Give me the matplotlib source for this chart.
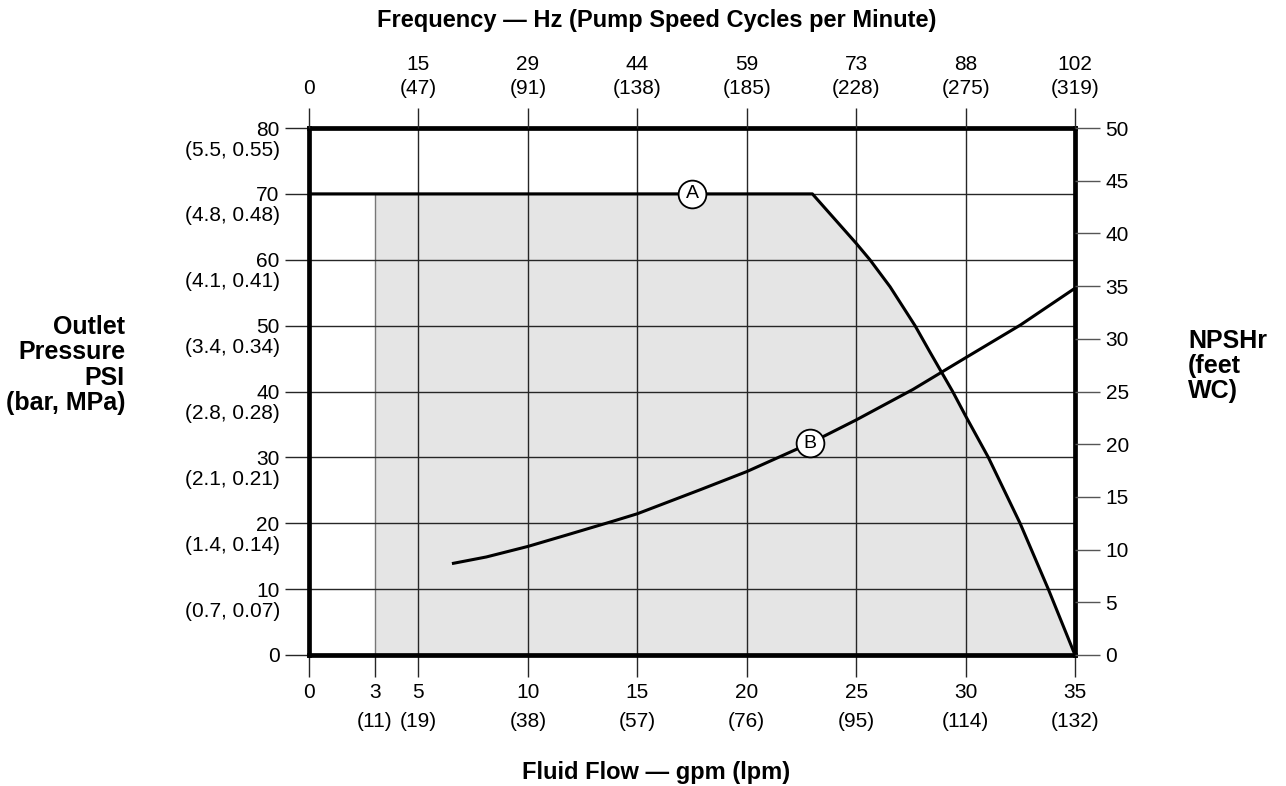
import matplotlib
matplotlib.use("Agg")
import matplotlib.pyplot as plt

plt.rcParams['font.family'] = ['Liberation Sans', 'DejaVu Sans']

# ---- data ----
flow_ticks = [0, 3, 5, 10, 15, 20, 25, 30, 35]
lpm_labels = ['', '(11)', '(19)', '(38)', '(57)', '(76)', '(95)', '(114)', '(132)']
freq_ticks = [0, 5, 10, 15, 20, 25, 30, 35]
hz_labels = ['0', '15', '29', '44', '59', '73', '88', '102']
cpm_labels = ['', '(47)', '(91)', '(138)', '(185)', '(228)', '(275)', '(319)']
psi_ticks = [0, 10, 20, 30, 40, 50, 60, 70, 80]
bar_mpa_labels = ['', '(0.7, 0.07)', '(1.4, 0.14)', '(2.1, 0.21)', '(2.8, 0.28)',
                  '(3.4, 0.34)', '(4.1, 0.41)', '(4.8, 0.48)', '(5.5, 0.55)']
npsh_ticks = [0, 5, 10, 15, 20, 25, 30, 35, 40, 45, 50]

# Curve A: max outlet pressure (psi) vs flow (gpm)
flow_A = [0, 23, 25, 25.63, 26.55, 27.69, 28.37, 29.41, 30, 31.04, 32.49, 33.78, 35]
psi_A = [70, 70, 62.5, 60, 55.9, 50, 46.0, 40, 36.3, 30, 20, 10, 0]
# Curve B: NPSHr (feet WC) vs flow (gpm)
flow_B = [6.6, 8.1, 10, 11.8, 13.9, 15, 17.9, 20, 22.9, 25, 27.6, 30, 32.5, 35]
npsh_B = [8.7, 9.3, 10.3, 11.4, 12.7, 13.4, 15.7, 17.4, 20.1, 22.3, 25.2, 28.2, 31.3, 34.8]
# operating region lower flow limit
min_flow = 3
label_A = (17.5, 70)
label_B = (22.9, 20.1)

W, H = 1286, 786
fig = plt.figure(figsize=(W / 100, H / 100), dpi=100)
ax = fig.add_axes([309 / W, 1 - 655 / H, (1075 - 309) / W, (655 - 128) / H])
ax.set_xlim(0, 35)
ax.set_ylim(0, 80)

FS = 15
GRID = '#262626'
px = 72 / 100  # points per pixel

# shaded operating region
fx = [x for x in flow_A if x >= min_flow]
fy = [y for x, y in zip(flow_A, psi_A) if x >= min_flow]
fx = [min_flow] + fx
fy = [70] + fy
ax.fill_between(fx, 0, fy, color='#e5e5e5', lw=0, zorder=1)
ax.plot([min_flow, min_flow], [0, 70], color='#777777', lw=1.0, zorder=2)

# grid lines
for x in [5, 10, 15, 20, 25, 30]:
    ax.axvline(x, color=GRID, lw=1.0, zorder=2)
for y in [10, 20, 30, 40, 50, 60, 70]:
    ax.axhline(y, color=GRID, lw=1.0, zorder=2)

# curve A
ax.plot(flow_A, psi_A, color='black', lw=2.2, zorder=4, solid_joinstyle='round')
ax.plot([label_A[0]], [label_A[1]], marker='o', ms=20, mfc='white', mec='black',
        mew=1.3, zorder=5)
ax.text(label_A[0], label_A[1], 'A', ha='center', va='center', fontsize=14, zorder=6)

# bottom axis
ax.set_xticks(flow_ticks)
ax.set_xticklabels([f"{t}\n{l}" if l else f"{t}" for t, l in zip(flow_ticks, lpm_labels)],
                   fontsize=FS, linespacing=1.7)
ax.tick_params(axis='x', direction='out', length=22 * px, width=1.0, color=GRID, pad=4)
# left axis
ax.set_yticks(psi_ticks)
ax.set_yticklabels([str(t) for t in psi_ticks], fontsize=FS)
ax.tick_params(axis='y', direction='out', length=24 * px, width=1.0, color=GRID, pad=4)
for t, l in zip(psi_ticks, bar_mpa_labels):
    if l:
        ax.annotate(l, xy=(0, t), xycoords=('axes fraction', 'data'),
                    xytext=(-29 * px, -22 * px), textcoords='offset points',
                    ha='right', va='center', fontsize=FS, annotation_clip=False)
for s in ax.spines.values():
    s.set_linewidth(3.4)
    s.set_zorder(10)

# right axis NPSHr
ax2 = ax.twinx()
ax2.set_ylim(0, 50)
ax2.set_yticks(npsh_ticks)
ax2.set_yticklabels([str(t) for t in npsh_ticks], fontsize=FS)
ax2.tick_params(axis='y', direction='out', length=25 * px, width=1.0, color='#555555', pad=4)
for s in ax2.spines.values():
    s.set_visible(False)
ax2.plot(flow_B, npsh_B, color='black', lw=2.2, zorder=4, solid_joinstyle='round')
ax2.plot([label_B[0]], [label_B[1]], marker='o', ms=20, mfc='white', mec='black',
         mew=1.3, zorder=5)
ax2.text(label_B[0], label_B[1], 'B', ha='center', va='center', fontsize=14, zorder=6)

# top axis frequency
ax3 = ax.twiny()
ax3.set_xlim(0, 35)
ax3.set_xticks(freq_ticks)
ax3.set_xticklabels([f"{h}\n{c}" if c else f"{h}" for h, c in zip(hz_labels, cpm_labels)],
                    fontsize=FS, linespacing=1.3)
ax3.tick_params(axis='x', direction='out', length=20 * px, width=1.0, color=GRID, pad=7.5)
for s in ax3.spines.values():
    s.set_visible(False)

# axis titles
fig.text(657 / W, 1 - 20 / H, 'Frequency \u2014 Hz (Pump Speed Cycles per Minute)',
         ha='center', va='center', fontsize=17, fontweight='bold')
fig.text(656 / W, 1 - 773 / H, 'Fluid Flow \u2014 gpm (lpm)',
         ha='center', va='center', fontsize=17, fontweight='bold')
fig.text(125 / W, 1 - 365 / H, 'Outlet\nPressure\nPSI\n(bar, MPa)',
         ha='right', va='center', fontsize=18, fontweight='bold', multialignment='right',
         linespacing=1.08)
fig.text(1188 / W, 1 - 366 / H, 'NPSHr\n(feet\nWC)',
         ha='left', va='center', fontsize=18, fontweight='bold', multialignment='left',
         linespacing=1.05)

fig.savefig('out.png', dpi=100)
